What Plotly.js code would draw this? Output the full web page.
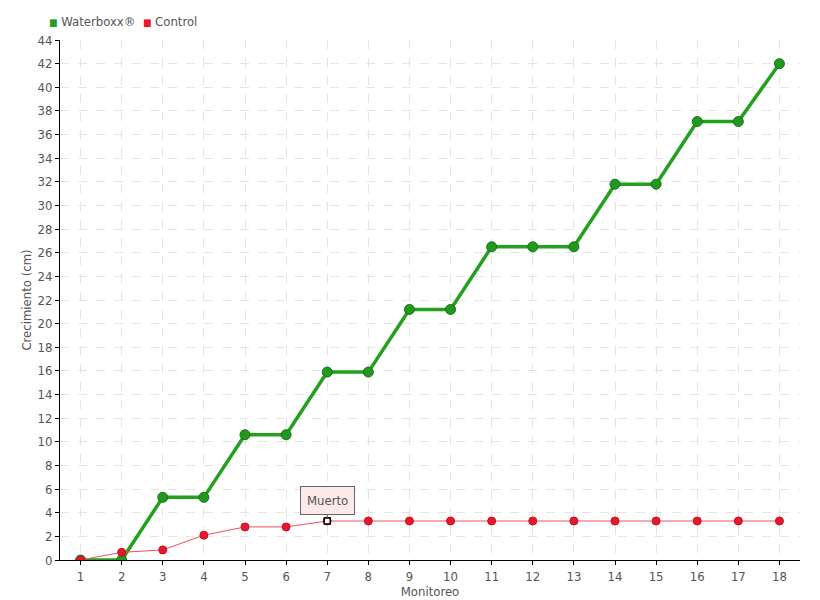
<!DOCTYPE html>
<html>
<head>
<meta charset="utf-8">
<script src="https://cdn.plot.ly/plotly-3.0.1.min.js"></script>
<style>html,body{margin:0;padding:0;background:#fff;}#chart{width:820px;height:600px;}</style>
</head>
<body>
<div id="chart"></div>
<script>
var monitoreo = [1,2,3,4,5,6,7,8,9,10,11,12,13,14,15,16,17,18];
var waterboxx = [0,0,5.3,5.3,10.6,10.6,15.9,15.9,21.2,21.2,26.5,26.5,26.5,31.8,31.8,37.1,37.1,42.0];
var control = [0,0.65,0.85,2.1,2.8,2.8,3.3,3.3,3.3,3.3,3.3,3.3,3.3,3.3,3.3,3.3,3.3,3.3];
var seriesNames = ["Waterboxx®", "Control"];
var deadIndex = 6;
var deadLabel = "Muerto";

var FONT = "'DejaVu Sans Condensed', 'Liberation Sans Narrow', sans-serif";
var TXT = "#555555";

var traces = [
  {
    x: monitoreo, y: waterboxx, name: seriesNames[0], mode: "lines+markers",
    line: {color: "#22a01e", width: 3.5},
    marker: {color: "#22981e", size: 10, line: {color: "#177517", width: 1}},
    showlegend: false, hoverinfo: "x+y"
  },
  {
    x: monitoreo, y: control, name: seriesNames[1], mode: "lines+markers",
    line: {color: "#f0505e", width: 1},
    marker: {color: "#e8182c", size: 8, line: {color: "#c81020", width: 1}},
    showlegend: false, hoverinfo: "x+y"
  },
  {
    x: [monitoreo[deadIndex]], y: [control[deadIndex]], mode: "markers",
    marker: {symbol: "square", color: "#ffffff", size: 6, line: {color: "#000000", width: 1.5}},
    showlegend: false, hoverinfo: "skip"
  }
];

var layout = {
  width: 820, height: 600,
  margin: {l: 60, r: 20, t: 40, b: 40},
  paper_bgcolor: "#ffffff", plot_bgcolor: "#ffffff",
  font: {family: FONT, size: 13, color: TXT},
  showlegend: false,
  xaxis: {
    range: [0.5, 18.5], tickmode: "array", tickvals: monitoreo, ticktext: monitoreo.map(String),
    showgrid: true, gridcolor: "#e4e4e4", griddash: "dash", gridwidth: 1,
    showline: true, linecolor: "#000000", linewidth: 1,
    ticks: "outside", ticklen: 4, tickcolor: "#000000",
    zeroline: false, tickfont: {family: FONT, size: 13, color: TXT},
    title: {text: "Monitoreo", font: {family: FONT, size: 13, color: TXT}, standoff: 1}
  },
  yaxis: {
    range: [0, 44], dtick: 2, tick0: 0,
    showgrid: true, gridcolor: "#e4e4e4", griddash: "dash", gridwidth: 1,
    showline: true, linecolor: "#000000", linewidth: 1,
    ticks: "outside", ticklen: 4, tickcolor: "#000000",
    zeroline: false, tickfont: {family: FONT, size: 13, color: TXT},
    title: {text: "Crecimiento (cm)", font: {family: FONT, size: 13, color: TXT}, standoff: 2}
  },
  annotations: [
    {
      x: monitoreo[deadIndex], y: control[deadIndex], xref: "x", yref: "y",
      text: deadLabel, showarrow: true, arrowhead: 0, arrowwidth: 1, arrowcolor: "#666666",
      ax: 0, ay: -21, standoff: 3,
      bgcolor: "#fde9e9", bordercolor: "#666666", borderwidth: 1, borderpad: 6,
      font: {family: FONT, size: 13, color: TXT}
    },
    {
      xref: "paper", yref: "paper", x: -0.018, y: 1.0365, xanchor: "left", yanchor: "middle",
      showarrow: false,
      text: "<span style='color:#22a01e;font-size:10px'>■</span> " + seriesNames[0] +
            "  <span style='color:#e8182c;font-size:10px'>■</span> " + seriesNames[1],
      font: {family: FONT, size: 13, color: TXT}
    }
  ]
};

Plotly.newPlot("chart", traces, layout, {displayModeBar: false, staticPlot: true});
</script>
</body>
</html>
